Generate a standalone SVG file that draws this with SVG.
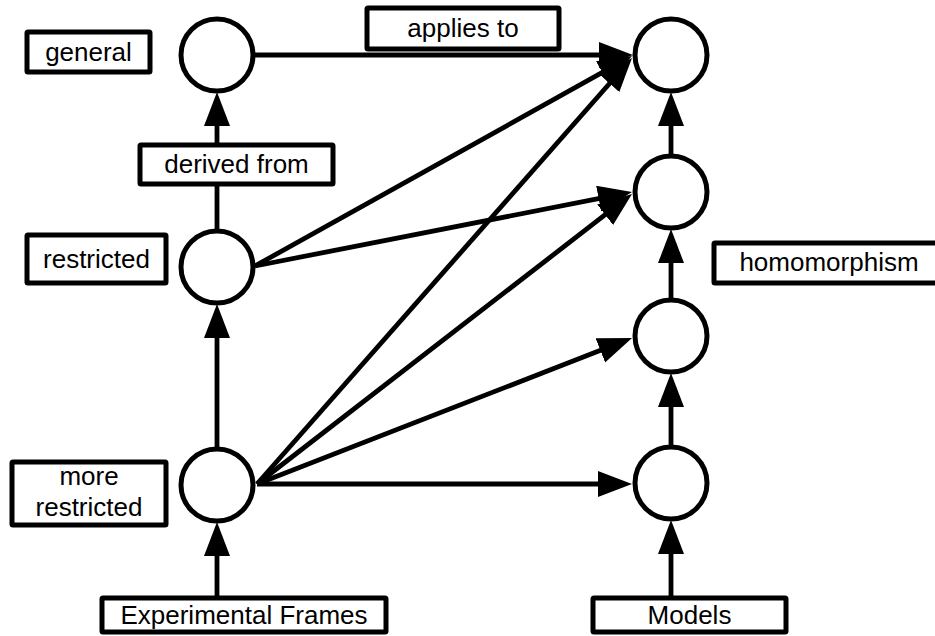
<svg xmlns="http://www.w3.org/2000/svg" width="935" height="636" viewBox="0 0 935 636">
<style>
.node{fill:#fff;stroke:#000;stroke-width:5}
.box{fill:#fff;stroke:#000;stroke-width:5}
.lbl{font-family:"Liberation Sans",Arial,sans-serif;font-size:26px;fill:#000;text-anchor:middle}
.edge{stroke:#000;stroke-width:4.8;fill:none}
.arr{marker-end:url(#ah)}
</style>
<defs>
<marker id="ah" markerUnits="userSpaceOnUse" markerWidth="36" markerHeight="28" refX="14" refY="13" orient="auto">
<path d="M0,0 L34,13 L0,26 z" fill="#000"/>
</marker>
</defs>
<rect width="935" height="636" fill="#fff"/>
<g id="connectors">
<line class="edge arr" x1="254" y1="55" x2="613" y2="55"/>
<line class="edge arr" x1="217" y1="145" x2="217" y2="112"/>
<line class="edge" x1="217" y1="230" x2="217" y2="184"/>
<line class="edge arr" x1="217" y1="448" x2="217" y2="324"/>
<line class="edge arr" x1="217" y1="598" x2="217" y2="542"/>
<line class="edge arr" x1="671" y1="598" x2="671" y2="540"/>
<line class="edge arr" x1="671" y1="446" x2="671" y2="393"/>
<line class="edge arr" x1="671" y1="299" x2="671" y2="249"/>
<line class="edge arr" x1="671" y1="155" x2="671" y2="112"/>
<line class="edge arr" x1="255" y1="266" x2="614.5" y2="65.7"/>
<line class="edge arr" x1="255" y1="266" x2="612.4" y2="195.9"/>
<line class="edge arr" x1="257" y1="484" x2="618.8" y2="73"/>
<line class="edge arr" x1="257" y1="484" x2="616.2" y2="206.2"/>
<line class="edge arr" x1="257" y1="484" x2="613.4" y2="345.3"/>
<line class="edge arr" x1="257" y1="484" x2="612" y2="484"/>
</g>
<g id="n_general"><circle class="node" cx="217" cy="55" r="36"/></g>
<g id="n_restricted"><circle class="node" cx="217" cy="267" r="36"/></g>
<g id="n_more_restricted"><circle class="node" cx="217" cy="485" r="36"/></g>
<g id="n_m1"><circle class="node" cx="671" cy="55" r="36"/></g>
<g id="n_m2"><circle class="node" cx="671" cy="192" r="36"/></g>
<g id="n_m3"><circle class="node" cx="671" cy="336" r="36"/></g>
<g id="n_m4"><circle class="node" cx="671" cy="483" r="36"/></g>
<g id="l_general"><rect class="box" x="27" y="32" width="123" height="40" rx="1"/><text class="lbl" x="88.5" y="61">general</text></g>
<g id="l_derived"><rect class="box" x="140" y="145" width="193" height="39" rx="1"/><text class="lbl" x="236.5" y="173">derived from</text></g>
<g id="l_applies"><rect class="box" x="367" y="8" width="192" height="41" rx="1"/><text class="lbl" x="463" y="37">applies to</text></g>
<g id="l_restricted"><rect class="box" x="27" y="235" width="139" height="48" rx="1"/><text class="lbl" x="96.5" y="268">restricted</text></g>
<g id="l_homomorphism"><rect class="box" x="714" y="243" width="224" height="40" rx="1"/><text class="lbl" x="829" y="271">homomorphism</text></g>
<g id="l_more_restricted"><rect class="box" x="12" y="462" width="154" height="63" rx="1"/><text class="lbl" x="89" y="485">more</text><text class="lbl" x="89" y="516">restricted</text></g>
<g id="l_ef"><rect class="box" x="102" y="598" width="284" height="34" rx="1"/><text class="lbl" x="244" y="624">Experimental Frames</text></g>
<g id="l_models"><rect class="box" x="593" y="598" width="193" height="34" rx="1"/><text class="lbl" x="689.5" y="624">Models</text></g>
</svg>
